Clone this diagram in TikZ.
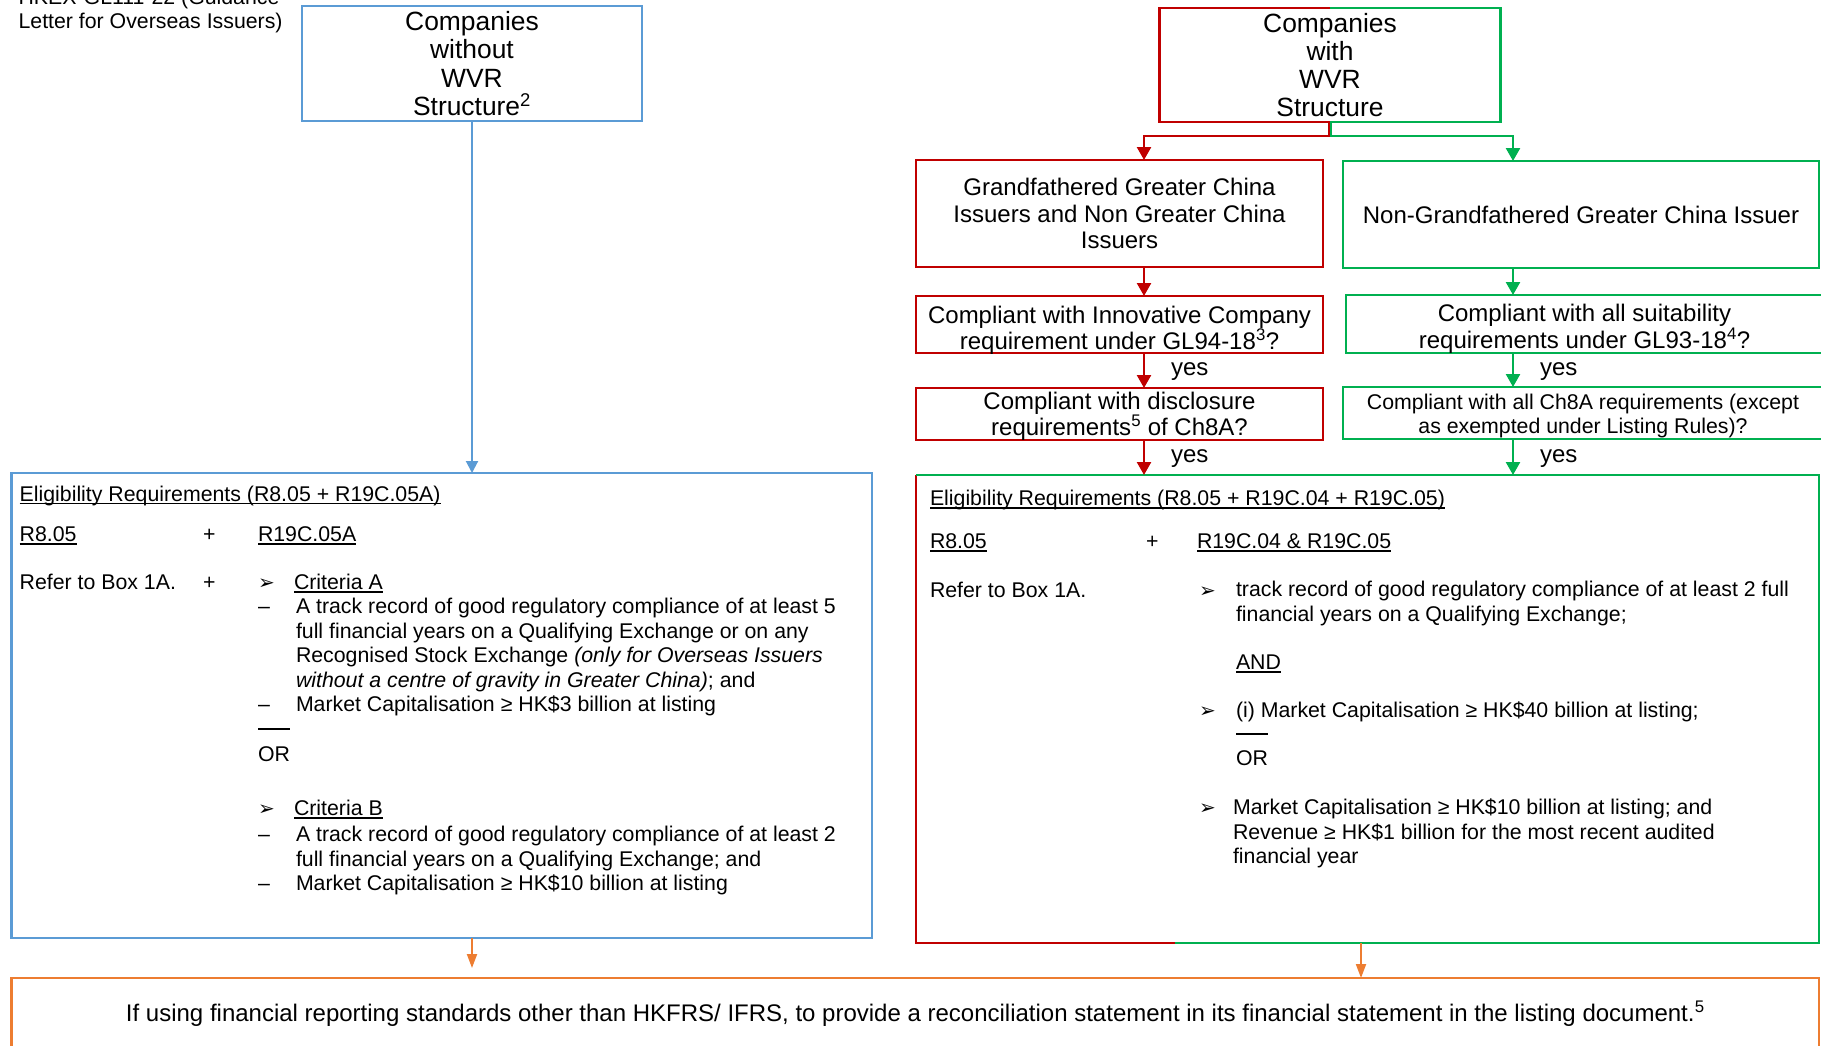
\documentclass[tikz,border=0pt]{standalone}
\usepackage{fontspec}
\setmainfont{Liberation Sans}
\newfontfamily\symfont{DejaVu Sans}
\usetikzlibrary{arrows.meta}

\definecolor{wvrblue}{HTML}{5B9BD5}
\definecolor{wvrred}{HTML}{C00000}
\definecolor{wvrgreen}{HTML}{00B050}
\definecolor{wvrorange}{HTML}{ED7D31}

\newcommand{\bodyfont}{\fontsize{21.3}{24.5}\selectfont}
\newcommand{\boxfont}{\fontsize{24}{26.7}\selectfont}
\newcommand{\bigfont}{\fontsize{26.4}{28.2}\selectfont}
\newcommand{\ulin}[1]{\setbox0\hbox{#1}\rlap{\rule[-3.2pt]{\wd0}{1.6pt}}\box0}
\newcommand{\pointer}{{\symfont\fontsize{20}{20}\selectfont ➢}}

\begin{document}
\begin{tikzpicture}[x=1pt,y=-1pt]
   \tikzstyle{every node}=[inner sep=0pt, outer sep=0pt]
   \tikzstyle{txt}=[anchor=base west, align=left, font=\bodyfont]
   \tikzstyle{boxtext}=[font=\boxfont, align=center]
   \tikzstyle{bluebox}=[draw=wvrblue, line width=2.5pt]
   \tikzstyle{redbox}=[draw=wvrred, line width=2.5pt, boxtext]
   \tikzstyle{greenbox}=[draw=wvrgreen, line width=2.5pt, boxtext]
   \tikzstyle{bluearr}=[draw=wvrblue, line width=2pt, -{Triangle[length=12pt,width=12pt]}]
   \tikzstyle{redarr}=[draw=wvrred, line width=2.5pt, -{Triangle[length=13pt,width=14pt]}]
   \tikzstyle{greenarr}=[draw=wvrgreen, line width=2.5pt, -{Triangle[length=13pt,width=14pt]}]
   \tikzstyle{orangearr}=[draw=wvrorange, line width=2pt, -{Triangle[length=14pt,width=10pt]}]
   \tikzstyle{yes}=[midway, right=27pt, yshift=-1.5pt, font=\boxfont]

   \useasboundingbox (0,0) rectangle (1821,1045);
   \clip (0,0) rectangle (1821,1045);

\node[txt] (note) at (18.6,28.5) {HKEX-GL111-22 (Guidance\\Letter for Overseas Issuers)};

\node[bluebox, minimum width=340, minimum height=115, font=\bigfont, align=center] (nowvr) at (472,63.5)
    {Companies\\without\\WVR\\Structure\textsuperscript{2}};
\node[minimum width=340.6, minimum height=114, font=\bigfont, align=center] (wvr) at (1330,65)
    {Companies\\with\\WVR\\Structure};

\node[redbox, minimum width=407, minimum height=107] (gfather) at (1119.5,213.5)
    {Grandfathered Greater China\\Issuers and Non Greater China\\Issuers};
\node[greenbox, minimum width=476, minimum height=107] (nongf) at (1581,214.5)
    {Non-Grandfathered Greater China Issuer};
\node[redbox, minimum width=407, minimum height=57,
    label={[boxtext, yshift=-5.8pt]center:{Compliant with Innovative Company\\requirement under GL94-18\textsuperscript{3}?}}] (innov) at (1119.5,324.5) {};
\node[greenbox, minimum width=477, minimum height=58,
    label={[boxtext, yshift=-4.6pt]center:{Compliant with all suitability\\requirements under GL93-18\textsuperscript{4}?}}] (suit) at (1584.5,324) {};
\node[redbox, minimum width=407, minimum height=52,
    label={[boxtext, yshift=-2.3pt]center:{Compliant with disclosure\\requirements\textsuperscript{5} of Ch8A?}}] (discl) at (1119.5,414) {};
\node[greenbox, minimum width=480, minimum height=52,
    label={[boxtext, font=\bodyfont, yshift=-3pt]center:{Compliant with all Ch8A requirements (except\\as exempted under Listing Rules)?}}] (chea) at (1583,413) {};

\node[bluebox, minimum width=860.4, minimum height=465] (eligl) at (441.8,705.5) {};
\node[minimum width=903, minimum height=468] (eligr) at (1367.5,709) {};
\node[draw=wvrorange, line width=2.5pt, minimum width=1807.4, minimum height=72, font=\boxfont] (recon) at (915.3,1014)
    {If using financial reporting standards other than HKFRS/ IFRS, to provide a reconciliation statement in its financial statement in the listing document.\textsuperscript{5}};

% two coloured borders
\coordinate (split) at (1175,943);
\draw[wvrred, line width=2.5pt] (wvr.north) -- (wvr.north west) -- (wvr.south west) -- (wvr.south);
\draw[wvrgreen, line width=2.5pt] (wvr.north) -- (wvr.north east) -- (wvr.south east) -- (wvr.south);
\draw[wvrred, line width=2.5pt] (eligr.north west) -- (eligr.south west) -- (split);
\draw[wvrgreen, line width=2.5pt] (eligr.north west) -- (eligr.north east) -- (eligr.south east) -- (split);

% left column
\node[txt] (lhead) at (19.7,501) {\ulin{Eligibility Requirements (R8.05 + R19C.05A)}};
\node[txt] (lrule) at (19.7,541.5) {\ulin{R8.05}};
\node[txt] (lplus) at (203,541.5) {+};
\node[txt] (lchap) at (258,541.5) {\ulin{R19C.05A}};
\node[txt] (lrefer) at (19.7,589.5) {Refer to Box 1A.};
\node[txt] (lplusb) at (203,589.5) {+};
\node[txt] (lptra) at (258,589.5) {\pointer};
\node[txt] (lcrita) at (294,589.5) {\ulin{Criteria A}};
\node[txt] (ldasha) at (258,613.5) {–};
\node[txt] (ltexta) at (296,687) {A track record of good regulatory compliance of at least 5\\full financial years on a Qualifying Exchange or on any\\Recognised Stock Exchange \textit{(only for Overseas Issuers}\\\textit{without a centre of gravity in Greater China)}; and};
\node[txt] (ldashb) at (258,711.5) {–};
\node[txt] (ltextb) at (296,711.5) {Market Capitalisation ≥ HK\$3 billion at listing};
\draw[line width=1.5pt] (258,729) -- (290,729);
\node[txt] (lor) at (258,761.5) {OR};
\node[txt] (lptrb) at (258,815.5) {\pointer};
\node[txt] (lcritb) at (294,815.5) {\ulin{Criteria B}};
\node[txt] (ldashc) at (258,841.5) {–};
\node[txt] (ltextc) at (296,866) {A track record of good regulatory compliance of at least 2\\full financial years on a Qualifying Exchange; and};
\node[txt] (ldashd) at (258,890.5) {–};
\node[txt] (ltextd) at (296,890.5) {Market Capitalisation ≥ HK\$10 billion at listing};

% right column
\node[txt] (rhead) at (930,505.5) {\ulin{Eligibility Requirements (R8.05 + R19C.04 + R19C.05)}};
\node[txt] (rrule) at (930,548.5) {\ulin{R8.05}};
\node[txt] (rplus) at (1146,548.5) {+};
\node[txt] (rchap) at (1197,548.5) {\ulin{R19C.04 \& R19C.05}};
\node[txt] (rrefer) at (930,597.5) {Refer to Box 1A.};
\node[txt] (rptra) at (1199,597.5) {\pointer};
\node[txt] (rtexta) at (1236,621) {track record of good regulatory compliance of at least 2 full\\financial years on a Qualifying Exchange;};
\node[txt] (rand) at (1236,669.5) {\ulin{AND}};
\node[txt] (rptrb) at (1199,717.5) {\pointer};
\node[txt] (rtextb) at (1236,717.5) {(i) Market Capitalisation ≥ HK\$40 billion at listing;};
\draw[line width=1.5pt] (1236,734) -- (1268,734);
\node[txt] (ror) at (1236,765.5) {OR};
\node[txt] (rptrc) at (1199,814.5) {\pointer};
\node[txt] (rtextc) at (1233,863.5) {Market Capitalisation ≥ HK\$10 billion at listing; and\\Revenue ≥ HK\$1 billion for the most recent audited\\financial year};

% connectors
\coordinate (rturn) at (1144,136);
\coordinate (gturn) at (1513,136);
\coordinate (oleft) at (472,968);
\coordinate (oright) at (1361,960);
\draw[bluearr] (nowvr.south) -- (nowvr.south |- eligl.north);
\draw[redarr] ([xshift=-1.2pt]wvr.south) |- (rturn) -- (rturn |- gfather.north);
\draw[greenarr] ([xshift=1.2pt]wvr.south) |- (gturn) -- (gturn |- nongf.north);
\draw[redarr] (rturn |- gfather.south) -- (rturn |- innov.north);
\draw[greenarr] (gturn |- nongf.south) -- (gturn |- suit.north);
\draw[redarr] (rturn |- innov.south) -- (rturn |- discl.north) node[yes] {yes};
\draw[greenarr] (gturn |- suit.south) -- (gturn |- chea.north) node[yes] {yes};
\draw[redarr] (rturn |- discl.south) -- (rturn |- eligr.north) node[yes] {yes};
\draw[greenarr] (gturn |- chea.south) -- (gturn |- eligr.north) node[yes] {yes};
\draw[orangearr] (eligl.south -| oleft) -- (oleft);
\draw[orangearr] (eligr.south -| oright) -- (oright |- recon.north);

\end{tikzpicture}
\end{document}
